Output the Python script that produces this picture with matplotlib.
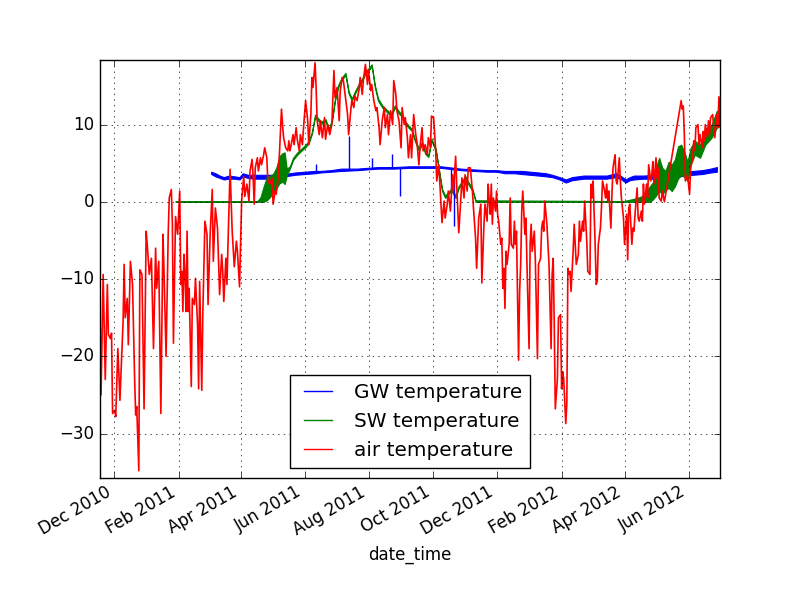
import matplotlib
matplotlib.use("Agg")
import matplotlib.pyplot as plt
import matplotlib.dates as mdates
from matplotlib.lines import Line2D
import pandas as pd

plt.style.use("classic")

######################################################################
# Data, days counted from 2010-11-18
START = pd.Timestamp("2010-11-18")

# air temperature (day, degC)
air = [
    (0, -13.8), (1, -25), (3, -9.4), (5, -23), (7, -10.7), (8, -17.2), (10, -17.7), (11, -17),
    (12, -27.4), (14, -27), (15, -27.8), (17, -19), (19, -25.7), (21, -19), (22, -15.5), (23, -8.1),
    (24, -15), (26, -12.5), (27, -18.5), (29, -7.7), (31, -10.7), (33, -22.9), (34, -27.6), (35, -26.5),
    (37, -34.8), (38, -8.8), (40, -9.4), (42, -26.8), (44, -3.8), (45, -5.5), (47, -9.4), (49, -7.3),
    (51, -19), (53, -6), (54, -11.2), (56, -7.7), (58, -27.4), (60, -4.2), (61, -9), (63, -20),
    (65, -4.2), (66, 0.5), (68, 1.6), (69, -2.9), (70, -18.3), (72, -1.9),
    (74, -4.2), (76, 1.4), (77, -10.7), (78, -9), (79, -14.2), (80, -6.8), (81, -9.4), (82, -14.2),
    (83, -3.8), (84, -14.2), (85, -11.2), (87, -23.9), (88, -12.5), (90, -13.3), (91, -9.9), (93, -15.9),
    (94, -24.2), (95, -10.3), (97, -24.4), (98, -14.6), (100, -2.5), (102, -4.2), (103, -13.3), (105, -4.2),
    (107, 1.6), (108, -7.7), (110, -0.8), (112, -3.4), (114, -12), (116, -6.8), (117, -9), (118, -12.9),
    (120, -7.3), (121, -10.7), (122, -5.5), (124, 4.2), (126, -3.8), (128, -8.4), (130, -5.1), (131, -6.4),
    (133, -11), (135, 0.1), (137, 3.3), (138, 0.7), (140, 2.3), (142, 0.1), (143, 4), (145, 5.5), (146, 3.1),
    (147, -0.3), (148, 4.4), (150, 5.7), (151, 4), (153, 5.7), (154, 4.8), (156, 6.1), (157, 7),
    (159, 5.7), (160, 2.7), (162, 2.3), (164, 3.1), (165, -0.3), (167, 1.4), (168, 1), (170, 3.5),
    (171, 6.1), (173, 12), (174, 10), (175, 8.3), (177, 7), (179, 6.6), (180, 7.9), (181, 6.6),
    (182, 7.2), (184, 8.7), (185, 7.4), (187, 9.6), (188, 8.1), (190, 6.6), (191, 8.7), (193, 7.4),
    (194, 9.6), (196, 13.1), (198, 10.5), (199, 7.4), (201, 11.3), (202, 16.1), (203, 14.8), (205, 18),
    (206, 14.8), (207, 10.5), (209, 8.7), (210, 10.5), (212, 8.3), (214, 10.9), (215, 8.1), (217, 10),
    (219, 8.7), (221, 10),
    (223, 17), (224, 13.5), (226, 14.8), (228, 10.5), (229, 14.4), (231, 16.1), (232, 15.7), (234, 13.5),
    (236, 11.3), (237, 8.7), (239, 11.8), (240, 13.1), (242, 12.2), (243, 13.7), (245, 13.1), (247, 14.6),
    (248, 16.1), (250, 13.9), (251, 15.7), (253, 17.8), (255, 15.2), (256, 17), (258, 14.4), (259, 15.2),
    (261, 13.1), (263, 11.8), (264, 12.2), (266, 9.6), (267, 7.4), (269, 10.5), (271, 12.2), (272, 9.6),
    (274, 11.3), (275, 8.7), (277, 11.8), (279, 10), (280, 15.7), (282, 13.9), (283, 11.8), (285, 10.5),
    (287, 7), (288, 12.2), (290, 10), (291, 10.9), (293, 8.3), (294, 5.7),
    (296, 8.7), (297, 5.7), (299, 11.3), (301, 8.7), (302, 7.9), (304, 4.8), (305, 7), (307, 9.6),
    (308, 6.6), (310, 7.4), (312, 6.1), (313, 8.3), (315, 7), (316, 11.1), (318, 10.9), (320, 6.6),
    (321, 2.7), (323, 4.8), (324, 2.3), (326, -2.7), (328, 0.1), (329, -2.1), (331, -0.3), (332, 1.4),
    (334, -1.2), (336, 3.5), (337, 1.4), (339, 5.9), (340, 2.3), (342, -4), (344, 0.5), (345, 3.1),
    (347, 0.5), (348, 3.5), (350, 1.4), (351, 4.4), (353, 4.4), (355, 1.4), (356, -0.8), (358, -4.7),
    (359, -8.6), (361, -2.1), (363, -0.3), (364, -10.5), (366, -2.9), (367, -0.3), (369, -2.5),
    (370, 2.3), (371, 0.1), (372, -1.6), (373, 2.3), (374, -2.9), (375, 0.5), (377, -1.2), (378, 1.4),
    (379, -1.6), (380, -2.5), (382, -5.5), (383, -4.7), (384, -11.2), (385, -8.6), (386, -13.8), (387, -6.4),
    (388, -8.1), (390, -5.5), (391, 0.5), (392, -5.5), (394, -6), (395, -2.5), (396, -5.5), (397, -3.8),
    (399, -20.5), (400, -11.6), (401, -8.1), (402, -1.2), (403, 1.4), (405, -4.2), (406, -2.1), (407, -8.1),
    (409, -19), (410, -5.5), (411, -2.9), (412, -6.4), (414, -3.8), (415, -7.7), (417, -20.3), (418, -8.1),
    (420, -7.3), (421, -3.4), (422, -2.5), (423, -3.8), (424, 0.1), (426, -2.9), (427, -5.5), (428, -8.1),
    (430, -19), (431, -9.4), (432, -7.3), (433, -15.9), (434, -26.8), (436, -22.9), (437, -15), (439, -14.6),
    (440, -24.2), (441, -22), (442, -22.9), (444, -28.7), (445, -26),
    (446, -8.6), (447, -9.4), (448, -9), (449, -11.6), (451, -6.4), (452, -2.9), (453, -5.5), (454, -8.1),
    (456, -6.8), (457, -2.5), (458, -5.1), (460, -2.5), (461, -3.8), (462, 0.1), (464, -5.1), (465, -9),
    (467, -9.4), (468, 2.3), (469, 0.5), (470, 2.7), (472, -5.5), (473, -10.7), (474, -10.3), (475, -5.5),
    (477, -3.4), (478, -0.8), (479, 2.7), (481, 1.4), (482, 0.5), (483, 2.3), (484, 0.1), (485, 1.4),
    (487, -3.4), (488, 1), (489, 4.4), (491, 6.1), (492, 2.7), (493, 2.3), (495, 5.7), (496, 2.7),
    (497, 0.5), (499, -2.1), (500, -5.5), (502, -1.6), (503, -7.5), (504, -0.8), (505, -0.3), (507, -5.5),
    (508, -3.4), (509, -3.8), (510, -1.6), (512, 1.8), (513, -2.1), (514, -2.5), (516, -1.2), (517, -2.5),
    (518, 2.3),
    (519, -0.3), (521, 2.3), (522, 0.5), (523, 4.8), (525, 2.7), (526, 3.5), (527, 5.2), (528, 2.3),
    (530, 5.7), (531, 3.1), (532, 4.4), (533, 0.5), (535, 0.1), (536, 1.4), (538, 0),
    (554, 13.1), (555, 12), (556, 12.4), (557, 8.7), (558, 2.7), (560, 3.5), (561, 2.3), (562, 1),
    (563, 4.4), (565, 5.7), (566, 7.9), (567, 6.6), (568, 9.6), (570, 10), (571, 7.4), (572, 8.7),
    (574, 7), (575, 9.1), (576, 7.9), (577, 10), (579, 8.3), (580, 10.5), (581, 8.7), (582, 10.9),
    (584, 11.3), (585, 9.6), (586, 8.3), (588, 11.3), (589, 9.6), (590, 13.6), (591, 11),
]

# groundwater temperature: (day, daily low, daily high)
gw = [
    (106, 3.6, 3.9), (110, 3.3, 3.7), (114, 3.1, 3.4), (118, 2.9, 3.2), (123, 3.0, 3.4), (128, 3.0, 3.3),
    (133, 2.9, 3.2), (136, 3.3, 3.7), (141, 3.1, 3.5), (146, 3.0, 3.5), (152, 3.0, 3.5), (158, 3.0, 3.5),
    (164, 3.1, 3.5), (170, 3.1, 3.6), (176, 3.3, 3.6), (186, 3.5, 3.8), (195, 3.6, 3.9), (205, 3.7, 4.0),
    (210, 3.8, 4.0), (220, 3.9, 4.1), (230, 4.0, 4.3), (245, 4.1, 4.3), (255, 4.2, 4.4), (265, 4.3, 4.5),
    (280, 4.3, 4.5), (295, 4.4, 4.6), (310, 4.4, 4.6), (325, 4.4, 4.6), (344, 4.1, 4.3), (356, 4.0, 4.2),
    (369, 3.9, 4.1), (378, 3.9, 4.1), (386, 3.7, 4.0), (395, 3.7, 4.0), (402, 3.6, 4.0), (410, 3.5, 3.9),
    (418, 3.4, 3.8), (425, 3.3, 3.7), (431, 3.2, 3.5), (438, 2.9, 3.2), (444, 2.5, 2.9), (450, 2.8, 3.2),
    (461, 3.0, 3.4), (472, 3.0, 3.4), (483, 3.0, 3.4), (492, 3.2, 3.7), (497, 2.9, 3.3), (501, 2.5, 2.9),
    (505, 2.8, 3.2), (509, 2.9, 3.4), (518, 3.0, 3.4), (530, 3.0, 3.5), (545, 3.1, 3.5), (557, 3.4, 3.8),
    (565, 3.5, 4.0), (574, 3.6, 4.1), (582, 3.8, 4.3), (588, 3.9, 4.5),
]

# single-reading spikes in the groundwater logger: (day, base, peak)
gw_spikes = [
    (206.2, 4.0, 4.9), (237.2, 4.1, 8.5), (259.4, 4.3, 5.7), (278.5, 4.4, 6.2),
    (286.4, 4.4, 0.7), (334.6, 4.4, 1.4), (337.3, 4.4, -3.1),
]

# surface water temperature: (day, daily low, daily high)
sw = [
    (72, 0, 0.1), (150, 0, 0.1), (153, 0, 0.6), (156, 0, 2.0), (159, 0.2, 3.2), (162, 0.6, 3.4),
    (165, 1.2, 3.6), (168, 1.7, 4.4), (171, 2.4, 5.9), (174, 2.6, 6.3), (176, 2.3, 6.4), (178, 3.4, 4.3),
    (181, 4.3, 4.6), (184, 5.4, 5.7), (188, 6.1, 6.4), (192, 6.6, 6.9), (196, 7.1, 7.4), (199, 7.6, 7.9),
    (202, 8.8, 9.1), (205, 11.0, 11.3), (208, 10.5, 10.8), (211, 10.1, 10.4), (215, 10.4, 10.7),
    (218, 9.2, 9.5), (221, 10.3, 10.6), (224, 13.1, 13.4), (227, 14.8, 15.1), (230, 15.7, 16.0),
    (234, 16.4, 16.7), (237, 14.0, 14.3), (240, 13.1, 13.4), (243, 14.0, 14.3), (246, 14.8, 15.1),
    (250, 15.7, 16.0), (253, 16.6, 16.9), (256, 17.0, 17.3), (259, 17.5, 17.8), (262, 14.8, 15.1),
    (265, 13.1, 13.4), (269, 12.2, 12.5), (272, 11.8, 12.1), (275, 11.4, 11.7), (278, 11.2, 11.5),
    (281, 12.2, 12.5), (285, 11.4, 11.7), (288, 11.0, 11.3), (291, 10.1, 10.4), (294, 9.6, 9.9),
    (297, 9.2, 9.5), (300, 7.9, 8.2), (304, 6.6, 6.9), (307, 7.5, 7.8), (310, 6.2, 6.5), (313, 5.8, 6.1),
    (316, 7.9, 8.2), (320, 6.6, 6.9), (323, 4.0, 4.3), (326, 1.4, 1.7), (329, 0.5, 0.8), (332, 1.0, 1.3),
    (335, 1.4, 1.7), (339, 0.5, 0.8), (342, 1.8, 2.1), (345, 2.3, 2.6), (348, 3.1, 3.4), (351, 2.3, 2.6),
    (355, 1.4, 1.7), (358, 0, 0.2), (499, 0, 0.1), (506, 0, 0.3), (512, 0, 0.5), (516, 0, 0.7),
    (520, 0, 1.2), (524, 0, 2.0), (527, 0.3, 2.5), (530, 0.8, 4.5), (533, 1.4, 5.7), (536, 1.0, 4.4),
    (539, 1.5, 4.0), (542, 1.8, 5.2), (545, 1.4, 4.8), (548, 2.0, 5.5), (551, 3.0, 7.2), (554, 3.5, 7.4),
    (557, 3.2, 6.5), (560, 2.7, 5.2), (563, 4.8, 7.0), (567, 6.1, 7.9), (572, 5.7, 7.4), (577, 7.4, 9.5),
    (583, 8.3, 10.0), (588, 9.6, 11.8), (591, 9.8, 11.5),
]

labels = ["GW temperature", "SW temperature", "air temperature"]
colors = ["b", "g", "r"]


def to_dates(days):
    return START + pd.to_timedelta(list(days), unit="D")


######################################################################
# Plot
fig, ax = plt.subplots(figsize=(8, 5.97), dpi=100)

gw_d, gw_lo, gw_hi = zip(*gw)
ax.fill_between(to_dates(gw_d), gw_lo, gw_hi, facecolor="b", edgecolor="b", linewidth=0.8)
sp_d, sp_base, sp_peak = zip(*gw_spikes)
ax.vlines(to_dates(sp_d), sp_base, sp_peak, colors="b", linewidth=1)

sw_d, sw_lo, sw_hi = zip(*sw)
ax.fill_between(to_dates(sw_d), sw_lo, sw_hi, facecolor="g", edgecolor="g", linewidth=0.8)

air_d, air_t = zip(*air)
air_dates = to_dates(air_d)
ax.plot(air_dates, air_t, color="r", linewidth=1.2)

ax.set_xlim(air_dates[0], air_dates[-1])
ax.set_ylim(-35.7, 18.4)
ax.xaxis.set_major_locator(mdates.MonthLocator(bymonth=[2, 4, 6, 8, 10, 12]))
ax.xaxis.set_major_formatter(mdates.DateFormatter("%b %Y"))
ax.grid(True)
ax.set_xlabel("date_time")

handles = [Line2D([], [], color=c, linewidth=1) for c in colors]
ax.legend(handles, labels, loc="lower center")

fig.autofmt_xdate()
fig.savefig("out.png", dpi=100, facecolor="white")
